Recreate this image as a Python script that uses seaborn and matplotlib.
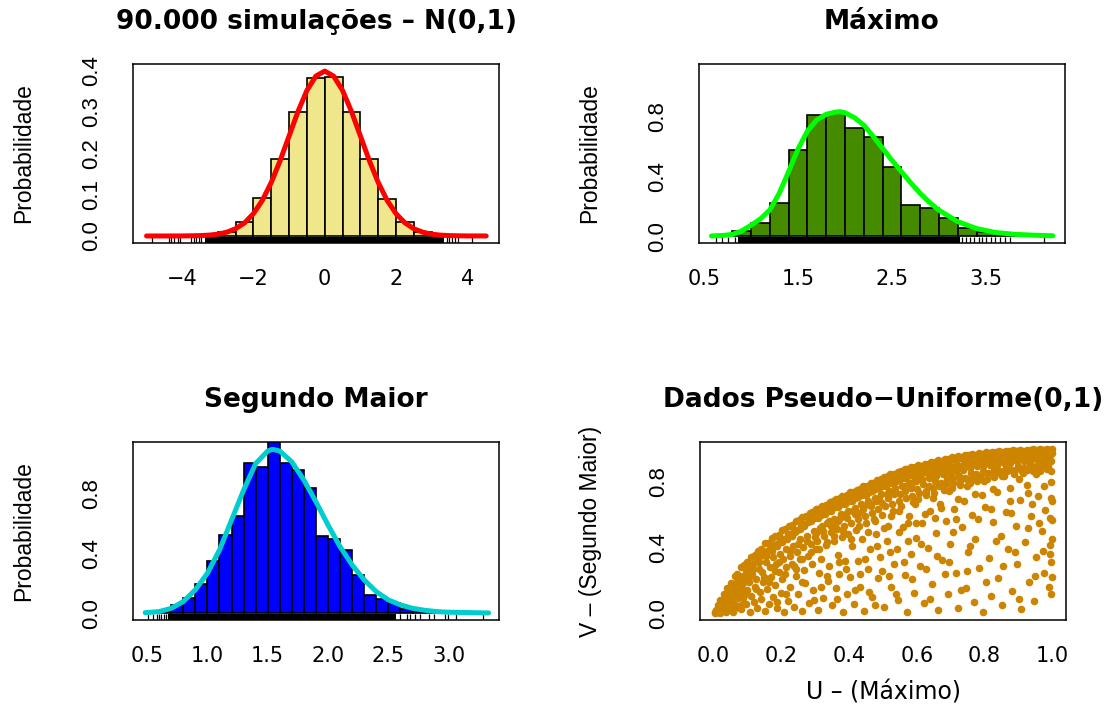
import numpy as np
import pandas as pd
import matplotlib
matplotlib.use("Agg")
import matplotlib.pyplot as plt
import seaborn as sns

# ---------------- data ----------------
# Panel 1: N(0,1) histogram (density) and curve
p1_edges = [-5.0, -4.5, -4.0, -3.5, -3.0, -2.5, -2.0, -1.5, -1.0, -0.5, 0.0,
            0.5, 1.0, 1.5, 2.0, 2.5, 3.0, 3.5, 4.0, 4.5]
p1_heights = [0.0, 0.0001, 0.0004, 0.0022, 0.0098, 0.033, 0.091, 0.186, 0.300, 0.382,
              0.384, 0.300, 0.185, 0.090, 0.034, 0.010, 0.0022, 0.0004, 0.0001]
p1_curve_x = [-5.0, -4.75, -4.5, -4.25, -4.0, -3.75, -3.5, -3.25, -3.0, -2.75, -2.5, -2.25,
              -2.0, -1.75, -1.5, -1.25, -1.0, -0.75, -0.5, -0.25, 0.0, 0.25, 0.5, 0.75,
              1.0, 1.25, 1.5, 1.75, 2.0, 2.25, 2.5, 2.75, 3.0, 3.25, 3.5, 3.75, 4.0,
              4.25, 4.53]
p1_curve_y = [0.0, 0.0, 0.0, 0.0001, 0.0001, 0.0004, 0.0009, 0.0020, 0.0044, 0.0091, 0.0175,
              0.0317, 0.0540, 0.0863, 0.1295, 0.1826, 0.2420, 0.3011, 0.3521, 0.3867, 0.3989,
              0.3867, 0.3521, 0.3011, 0.2420, 0.1826, 0.1295, 0.0863, 0.0540, 0.0317, 0.0175,
              0.0091, 0.0044, 0.0020, 0.0009, 0.0004, 0.0001, 0.0001, 0.0]
p1_rug_core = [-3.3, -3.2, -3.1, -3.0, -2.9, -2.8, -2.7, -2.6, -2.5, -2.4, -2.3, -2.2, -2.1,
               -2.0, -1.9, -1.8, -1.7, -1.6, -1.5, -1.4, -1.3, -1.2, -1.1, -1.0, -0.9, -0.8,
               -0.7, -0.6, -0.5, -0.4, -0.3, -0.2, -0.1, 0.0, 0.1, 0.2, 0.3, 0.4, 0.5, 0.6,
               0.7, 0.8, 0.9, 1.0, 1.1, 1.2, 1.3, 1.4, 1.5, 1.6, 1.7, 1.8, 1.9, 2.0, 2.1,
               2.2, 2.3, 2.4, 2.5, 2.6, 2.7, 2.8, 2.9, 3.0, 3.1, 3.2, 3.3]
p1_rug_tail = [-4.86, -4.36, -4.31, -4.24, -4.12, -4.07, -3.74, -3.66, -3.6, -3.52, -3.47,
               3.42, 3.49, 3.58, 3.66, 3.74, 4.13]
p1_xticks = [-4, -2, 0, 2, 4]
p1_xlabels = ["\u22124", "\u22122", "0", "2", "4"]
p1_yticks = [0.0, 0.1, 0.2, 0.3, 0.4]
p1_ylabels = ["0.0", "0.1", "0.2", "0.3", "0.4"]

# Panel 2: Maximo
p2_edges = [0.6, 0.8, 1.0, 1.2, 1.4, 1.6, 1.8, 2.0, 2.2, 2.4, 2.6, 2.8, 3.0, 3.2, 3.4,
            3.6, 3.8, 4.0, 4.2]
p2_heights = [0.004, 0.033, 0.091, 0.222, 0.571, 0.807, 0.822, 0.724, 0.658, 0.464, 0.207,
              0.187, 0.122, 0.056, 0.029, 0.012, 0.003, 0.001]
p2_curve_x = [0.58, 0.7, 0.8, 0.9, 1.0, 1.1, 1.2, 1.3, 1.4, 1.5, 1.6, 1.7, 1.8, 1.9, 1.95,
              2.0, 2.1, 2.2, 2.3, 2.4, 2.5, 2.6, 2.7, 2.8, 2.9, 3.0, 3.2, 3.4, 3.6, 3.8,
              4.0, 4.21]
p2_curve_y = [0.002, 0.005, 0.012, 0.035, 0.073, 0.115, 0.175, 0.285, 0.43, 0.58, 0.70,
              0.775, 0.812, 0.827, 0.829, 0.822, 0.79, 0.74, 0.665, 0.585, 0.505, 0.43,
              0.355, 0.285, 0.225, 0.173, 0.097, 0.051, 0.025, 0.013, 0.007, 0.003]
p2_rug_core = [0.88, 0.92, 0.96, 1.0, 1.04, 1.08, 1.12, 1.16, 1.2, 1.24, 1.28, 1.32, 1.36,
               1.4, 1.44, 1.48, 1.52, 1.56, 1.6, 1.64, 1.68, 1.72, 1.76, 1.8, 1.84, 1.88,
               1.92, 1.96, 2.0, 2.04, 2.08, 2.12, 2.16, 2.2, 2.24, 2.28, 2.32, 2.36, 2.4,
               2.44, 2.48, 2.52, 2.56, 2.6, 2.64, 2.68, 2.72, 2.76, 2.8, 2.84, 2.88, 2.92,
               2.96, 3.0, 3.04, 3.08, 3.12, 3.16, 3.2]
p2_rug_tail = [0.63, 0.69, 0.76, 0.83, 3.24, 3.29, 3.33, 3.37, 3.42, 3.46, 3.5, 3.55, 3.6,
               3.65, 3.7, 3.75, 4.12]
p2_xticks = [0.5, 1.0, 1.5, 2.0, 2.5, 3.0, 3.5, 4.0]
p2_xlabels = ["0.5", "", "1.5", "", "2.5", "", "3.5", ""]
p2_yticks = [0.0, 0.2, 0.4, 0.6, 0.8, 1.0]
p2_ylabels = ["0.0", "", "0.4", "", "0.8", ""]

# Panel 3: Segundo Maior
p3_edges = [0.5, 0.6, 0.7, 0.8, 0.9, 1.0, 1.1, 1.2, 1.3, 1.4, 1.5, 1.6, 1.7, 1.8, 1.9, 2.0,
            2.1, 2.2, 2.3, 2.4, 2.5, 2.6, 2.7, 2.8, 2.9, 3.0, 3.1, 3.2, 3.3]
p3_heights = [0.003, 0.012, 0.055, 0.104, 0.193, 0.349, 0.520, 0.647, 1.004, 0.978, 1.18,
              1.007, 0.960, 0.837, 0.515, 0.495, 0.420, 0.255, 0.120, 0.093, 0.067, 0.027,
              0.015, 0.008, 0.004, 0.002, 0.001, 0.001]
p3_curve_x = [0.485, 0.6, 0.7, 0.8, 0.9, 1.0, 1.1, 1.2, 1.3, 1.4, 1.5, 1.54, 1.6, 1.7, 1.8,
              1.9, 2.0, 2.1, 2.2, 2.3, 2.4, 2.5, 2.6, 2.7, 2.8, 2.9, 3.0, 3.33]
p3_curve_y = [0.004, 0.011, 0.033, 0.078, 0.156, 0.267, 0.422, 0.622, 0.822, 1.0, 1.084,
              1.095, 1.084, 1.011, 0.889, 0.744, 0.589, 0.444, 0.322, 0.222, 0.144, 0.089,
              0.056, 0.033, 0.020, 0.011, 0.007, 0.002]
p3_rug_core = [0.69, 0.72, 0.75, 0.78, 0.81, 0.84, 0.87, 0.9, 0.93, 0.96, 0.99, 1.02, 1.05,
               1.08, 1.11, 1.14, 1.17, 1.2, 1.23, 1.26, 1.29, 1.32, 1.35, 1.38, 1.41, 1.44,
               1.47, 1.5, 1.53, 1.56, 1.59, 1.62, 1.65, 1.68, 1.71, 1.74, 1.77, 1.8, 1.83,
               1.86, 1.89, 1.92, 1.95, 1.98, 2.01, 2.04, 2.07, 2.1, 2.13, 2.16, 2.19, 2.22,
               2.25, 2.28, 2.31, 2.34, 2.37, 2.4, 2.43, 2.46, 2.49, 2.52, 2.55]
p3_rug_tail = [0.51, 0.55, 0.58, 0.6, 0.62, 0.64, 0.66, 2.6, 2.65, 2.68, 2.72, 2.76, 2.84,
               2.88, 2.97, 2.99, 3.06, 3.28]
p3_xticks = [0.5, 1.0, 1.5, 2.0, 2.5, 3.0]
p3_xlabels = ["0.5", "1.0", "1.5", "2.0", "2.5", "3.0"]
p3_yticks = [0.0, 0.2, 0.4, 0.6, 0.8, 1.0]
p3_ylabels = ["0.0", "", "0.4", "", "0.8", ""]

# Panel 4: pseudo-uniform scatter (U = maximo, V = segundo maior)
pts_edge = [(0.004, 0.012), (0.013, 0.050), (0.021, 0.081), (0.032, 0.118), (0.041, 0.158),
            (0.052, 0.188), (0.063, 0.226), (0.071, 0.241), (0.083, 0.279), (0.092, 0.296),
            (0.101, 0.309), (0.112, 0.342), (0.123, 0.356), (0.131, 0.380), (0.142, 0.391),
            (0.153, 0.424), (0.161, 0.428), (0.174, 0.455), (0.182, 0.470), (0.193, 0.477),
            (0.204, 0.503), (0.213, 0.509), (0.224, 0.532), (0.232, 0.535), (0.243, 0.558),
            (0.254, 0.566), (0.262, 0.583), (0.273, 0.588), (0.284, 0.609), (0.292, 0.611),
            (0.303, 0.630), (0.314, 0.637), (0.322, 0.652), (0.333, 0.655), (0.344, 0.676),
            (0.352, 0.678), (0.363, 0.693), (0.374, 0.697), (0.381, 0.712), (0.393, 0.715),
            (0.404, 0.733), (0.412, 0.734), (0.423, 0.748), (0.434, 0.755), (0.442, 0.770),
            (0.453, 0.771), (0.464, 0.788), (0.472, 0.790), (0.483, 0.806), (0.494, 0.811),
            (0.503, 0.826), (0.514, 0.829), (0.522, 0.843), (0.533, 0.844), (0.544, 0.858),
            (0.553, 0.861), (0.564, 0.873), (0.572, 0.871), (0.583, 0.884), (0.594, 0.885),
            (0.603, 0.897), (0.612, 0.893), (0.624, 0.906), (0.633, 0.905), (0.641, 0.914),
            (0.653, 0.917), (0.662, 0.925), (0.674, 0.924), (0.683, 0.934), (0.691, 0.932),
            (0.703, 0.943), (0.714, 0.941), (0.722, 0.950), (0.734, 0.948), (0.743, 0.957),
            (0.752, 0.955), (0.763, 0.963), (0.771, 0.958), (0.784, 0.969), (0.792, 0.966),
            (0.803, 0.974), (0.811, 0.969), (0.823, 0.978), (0.834, 0.974), (0.842, 0.981),
            (0.853, 0.976), (0.864, 0.984), (0.872, 0.979), (0.883, 0.986), (0.894, 0.981),
            (0.903, 0.988), (0.912, 0.983), (0.924, 0.990), (0.933, 0.985), (0.942, 0.992),
            (0.953, 0.987), (0.962, 0.993), (0.974, 0.989), (0.983, 0.994), (0.992, 0.990),
            (0.998, 0.996)]
pts_band = [(0.018, 0.045), (0.027, 0.072), (0.036, 0.098), (0.047, 0.131), (0.057, 0.162),
            (0.066, 0.184), (0.078, 0.221), (0.087, 0.228), (0.097, 0.262), (0.108, 0.284),
            (0.117, 0.301), (0.128, 0.318), (0.137, 0.346), (0.148, 0.352), (0.158, 0.381),
            (0.168, 0.389), (0.178, 0.416), (0.188, 0.421), (0.198, 0.447), (0.208, 0.452),
            (0.219, 0.478), (0.228, 0.483), (0.239, 0.503), (0.248, 0.508), (0.258, 0.529),
            (0.269, 0.531), (0.278, 0.554), (0.289, 0.557), (0.298, 0.575), (0.309, 0.579),
            (0.318, 0.598), (0.329, 0.603), (0.338, 0.618), (0.348, 0.619), (0.359, 0.641),
            (0.368, 0.642), (0.378, 0.659), (0.388, 0.661), (0.399, 0.679), (0.408, 0.681),
            (0.419, 0.697), (0.428, 0.702), (0.438, 0.716), (0.449, 0.719), (0.458, 0.735),
            (0.468, 0.738), (0.478, 0.752), (0.489, 0.757), (0.498, 0.771), (0.508, 0.772),
            (0.518, 0.789), (0.528, 0.791), (0.538, 0.803), (0.548, 0.805), (0.559, 0.821),
            (0.568, 0.818), (0.578, 0.834), (0.588, 0.832), (0.598, 0.846), (0.608, 0.843),
            (0.619, 0.856), (0.628, 0.853), (0.638, 0.866), (0.648, 0.862), (0.658, 0.874),
            (0.669, 0.871), (0.678, 0.884), (0.688, 0.879), (0.698, 0.892), (0.709, 0.888),
            (0.718, 0.899), (0.728, 0.894), (0.738, 0.906), (0.748, 0.901), (0.758, 0.912),
            (0.768, 0.908), (0.778, 0.918), (0.789, 0.913), (0.798, 0.924), (0.808, 0.918),
            (0.818, 0.928), (0.828, 0.923), (0.838, 0.933), (0.848, 0.927), (0.858, 0.936),
            (0.868, 0.931), (0.878, 0.941), (0.888, 0.934), (0.898, 0.944), (0.908, 0.937),
            (0.918, 0.948), (0.928, 0.941), (0.938, 0.951), (0.948, 0.944), (0.958, 0.953),
            (0.968, 0.947), (0.978, 0.958), (0.988, 0.951), (0.996, 0.962)]
pts_inner = [(0.035, 0.06), (0.045, 0.09), (0.055, 0.11), (0.068, 0.14), (0.076, 0.17),
             (0.085, 0.15), (0.094, 0.21), (0.104, 0.19), (0.115, 0.24), (0.126, 0.21),
             (0.134, 0.27), (0.145, 0.25), (0.156, 0.31), (0.166, 0.28), (0.176, 0.34),
             (0.185, 0.30), (0.196, 0.36), (0.207, 0.33), (0.216, 0.39), (0.226, 0.35),
             (0.236, 0.41), (0.246, 0.37), (0.257, 0.45), (0.266, 0.40), (0.276, 0.47),
             (0.287, 0.42), (0.296, 0.50), (0.306, 0.44), (0.316, 0.52), (0.327, 0.47),
             (0.336, 0.55), (0.347, 0.49), (0.357, 0.57), (0.366, 0.51), (0.377, 0.60),
             (0.386, 0.53), (0.396, 0.62), (0.406, 0.55), (0.417, 0.64), (0.427, 0.57),
             (0.436, 0.66), (0.447, 0.59), (0.456, 0.68), (0.467, 0.61), (0.476, 0.70),
             (0.487, 0.63), (0.496, 0.72), (0.507, 0.65), (0.517, 0.74), (0.526, 0.66),
             (0.536, 0.76), (0.547, 0.68), (0.556, 0.77), (0.567, 0.70), (0.576, 0.79),
             (0.586, 0.71), (0.597, 0.80), (0.607, 0.73), (0.616, 0.81), (0.626, 0.74),
             (0.637, 0.82), (0.647, 0.76), (0.656, 0.83), (0.667, 0.77), (0.676, 0.84),
             (0.686, 0.78), (0.697, 0.85), (0.707, 0.79), (0.716, 0.86), (0.727, 0.80),
             (0.736, 0.87), (0.747, 0.81), (0.757, 0.88), (0.766, 0.82), (0.777, 0.89),
             (0.787, 0.83), (0.796, 0.89), (0.806, 0.84), (0.817, 0.90), (0.827, 0.84),
             (0.836, 0.90), (0.846, 0.85), (0.857, 0.91), (0.867, 0.86), (0.876, 0.91),
             (0.886, 0.86), (0.897, 0.92), (0.907, 0.87), (0.916, 0.92), (0.926, 0.87),
             (0.937, 0.93), (0.947, 0.88), (0.956, 0.93), (0.966, 0.88), (0.977, 0.93),
             (0.987, 0.89), (0.995, 0.92),
             (0.305, 0.49), (0.322, 0.53), (0.341, 0.56), (0.358, 0.53), (0.374, 0.58),
             (0.392, 0.60), (0.411, 0.62), (0.429, 0.61), (0.445, 0.65), (0.462, 0.66),
             (0.481, 0.68), (0.499, 0.67), (0.515, 0.70), (0.532, 0.72), (0.551, 0.72),
             (0.566, 0.74), (0.584, 0.76), (0.601, 0.75), (0.619, 0.78), (0.636, 0.77),
             (0.654, 0.80), (0.671, 0.79), (0.689, 0.81), (0.706, 0.82), (0.724, 0.83),
             (0.741, 0.82), (0.759, 0.85), (0.776, 0.84), (0.794, 0.86), (0.811, 0.85),
             (0.829, 0.87), (0.846, 0.86), (0.864, 0.88), (0.881, 0.87), (0.899, 0.89),
             (0.916, 0.88), (0.934, 0.90), (0.951, 0.89), (0.969, 0.90), (0.986, 0.91)]
pts_mid = [(0.105, 0.22), (0.118, 0.27), (0.127, 0.15), (0.136, 0.31), (0.149, 0.22),
           (0.157, 0.35), (0.164, 0.19), (0.172, 0.38), (0.181, 0.26), (0.187, 0.41),
           (0.195, 0.31), (0.202, 0.43), (0.211, 0.24), (0.218, 0.45), (0.225, 0.38),
           (0.231, 0.47), (0.237, 0.29), (0.242, 0.49), (0.249, 0.42), (0.256, 0.51),
           (0.263, 0.33), (0.268, 0.54), (0.275, 0.44), (0.282, 0.56), (0.288, 0.37),
           (0.293, 0.58), (0.299, 0.46), (0.307, 0.60), (0.312, 0.39), (0.317, 0.61),
           (0.323, 0.50), (0.328, 0.63), (0.334, 0.43), (0.339, 0.64), (0.346, 0.53),
           (0.351, 0.66), (0.356, 0.47), (0.362, 0.67), (0.369, 0.56), (0.376, 0.69),
           (0.383, 0.50), (0.387, 0.70), (0.394, 0.58), (0.401, 0.71), (0.407, 0.45),
           (0.413, 0.73), (0.418, 0.60), (0.424, 0.74), (0.431, 0.53), (0.437, 0.75),
           (0.443, 0.63), (0.448, 0.76), (0.455, 0.49), (0.461, 0.77), (0.466, 0.65),
           (0.471, 0.78), (0.478, 0.56), (0.484, 0.79), (0.489, 0.69), (0.495, 0.80),
           (0.502, 0.52), (0.509, 0.81), (0.513, 0.72), (0.519, 0.82), (0.525, 0.59),
           (0.531, 0.83), (0.537, 0.74), (0.543, 0.84), (0.549, 0.62), (0.554, 0.85),
           (0.561, 0.77), (0.566, 0.86), (0.573, 0.55), (0.579, 0.87), (0.585, 0.79),
           (0.591, 0.87), (0.596, 0.66), (0.602, 0.88), (0.611, 0.81), (0.617, 0.89),
           (0.623, 0.60), (0.629, 0.89), (0.635, 0.83), (0.642, 0.90), (0.649, 0.70),
           (0.655, 0.91), (0.661, 0.85), (0.666, 0.91), (0.672, 0.64), (0.679, 0.92),
           (0.684, 0.86), (0.691, 0.92), (0.696, 0.74), (0.702, 0.93), (0.711, 0.88),
           (0.717, 0.93), (0.723, 0.69), (0.729, 0.94), (0.735, 0.89), (0.742, 0.94),
           (0.749, 0.77), (0.754, 0.95), (0.761, 0.90), (0.767, 0.95), (0.772, 0.72),
           (0.779, 0.95), (0.786, 0.91), (0.793, 0.96), (0.799, 0.80), (0.805, 0.96),
           (0.812, 0.92), (0.819, 0.96), (0.826, 0.75), (0.832, 0.97), (0.839, 0.93),
           (0.845, 0.97), (0.851, 0.83), (0.857, 0.97), (0.862, 0.94), (0.869, 0.97),
           (0.875, 0.68), (0.882, 0.98), (0.889, 0.95), (0.894, 0.98), (0.901, 0.81),
           (0.906, 0.98), (0.913, 0.95), (0.921, 0.98), (0.927, 0.73), (0.932, 0.98),
           (0.939, 0.96), (0.944, 0.99), (0.951, 0.84), (0.957, 0.99), (0.964, 0.96),
           (0.971, 0.99), (0.976, 0.77), (0.982, 0.99), (0.988, 0.96), (0.994, 0.99),
           (0.997, 0.86), (0.999, 0.97), (0.995, 0.70), (0.992, 0.58), (0.998, 0.45),
           (0.994, 0.36), (0.999, 0.22), (0.996, 0.12)]
pts_low = [(0.006, 0.004), (0.009, 0.021), (0.016, 0.031), (0.019, 0.006), (0.023, 0.058),
           (0.028, 0.033), (0.034, 0.081), (0.038, 0.012), (0.042, 0.107), (0.046, 0.045),
           (0.053, 0.142), (0.056, 0.074), (0.061, 0.031), (0.066, 0.168), (0.072, 0.092),
           (0.077, 0.201), (0.082, 0.054), (0.089, 0.184), (0.093, 0.119), (0.098, 0.238),
           (0.012, 0.008), (0.025, 0.015), (0.031, 0.041), (0.044, 0.022), (0.048, 0.063),
           (0.058, 0.012), (0.062, 0.085), (0.069, 0.047), (0.074, 0.118), (0.081, 0.029),
           (0.088, 0.094), (0.096, 0.061), (0.099, 0.142), (0.107, 0.011), (0.111, 0.108),
           (0.119, 0.072), (0.124, 0.163), (0.129, 0.037), (0.138, 0.128), (0.141, 0.089),
           (0.147, 0.193), (0.152, 0.018), (0.159, 0.149), (0.163, 0.057), (0.171, 0.221),
           (0.177, 0.103), (0.183, 0.176), (0.189, 0.034), (0.194, 0.252), (0.199, 0.126),
           (0.203, 0.207), (0.209, 0.009), (0.214, 0.284), (0.221, 0.078), (0.227, 0.161),
           (0.233, 0.302), (0.238, 0.043), (0.244, 0.229), (0.251, 0.118), (0.255, 0.331),
           (0.261, 0.014), (0.267, 0.262), (0.272, 0.187), (0.279, 0.351), (0.283, 0.067),
           (0.291, 0.298), (0.294, 0.142), (0.302, 0.388), (0.308, 0.021), (0.313, 0.247),
           (0.319, 0.331), (0.324, 0.096), (0.331, 0.412), (0.337, 0.198), (0.342, 0.288),
           (0.349, 0.052), (0.355, 0.436), (0.361, 0.157), (0.367, 0.354), (0.372, 0.241),
           (0.379, 0.463), (0.384, 0.012), (0.389, 0.317), (0.395, 0.118), (0.398, 0.481),
           (0.403, 0.224), (0.409, 0.407), (0.414, 0.061), (0.421, 0.506), (0.426, 0.316),
           (0.433, 0.162), (0.439, 0.453), (0.444, 0.018), (0.451, 0.548), (0.457, 0.271),
           (0.462, 0.389), (0.469, 0.102), (0.474, 0.571), (0.481, 0.481), (0.486, 0.213),
           (0.492, 0.342), (0.499, 0.597), (0.504, 0.041), (0.511, 0.438), (0.516, 0.527),
           (0.523, 0.164), (0.529, 0.621), (0.534, 0.297), (0.541, 0.392), (0.546, 0.083),
           (0.553, 0.648), (0.558, 0.521), (0.564, 0.236), (0.571, 0.011), (0.577, 0.587),
           (0.582, 0.361), (0.588, 0.672), (0.593, 0.127), (0.599, 0.458), (0.604, 0.693),
           (0.609, 0.286), (0.615, 0.547), (0.621, 0.062), (0.627, 0.714), (0.632, 0.398),
           (0.639, 0.621), (0.644, 0.178), (0.651, 0.729), (0.657, 0.489), (0.662, 0.022),
           (0.668, 0.662), (0.674, 0.323), (0.681, 0.746), (0.686, 0.561), (0.692, 0.121),
           (0.698, 0.418), (0.703, 0.758), (0.709, 0.632), (0.716, 0.247), (0.722, 0.034),
           (0.727, 0.774), (0.733, 0.524), (0.739, 0.682), (0.744, 0.157), (0.751, 0.372),
           (0.756, 0.788), (0.762, 0.597), (0.768, 0.071), (0.773, 0.453), (0.779, 0.801),
           (0.784, 0.276), (0.791, 0.718), (0.796, 0.013), (0.802, 0.643), (0.807, 0.812),
           (0.813, 0.338), (0.818, 0.106), (0.824, 0.554), (0.829, 0.823), (0.836, 0.737),
           (0.841, 0.214), (0.847, 0.469), (0.852, 0.051), (0.858, 0.833), (0.863, 0.612),
           (0.869, 0.389), (0.874, 0.761), (0.881, 0.138), (0.886, 0.842), (0.892, 0.528),
           (0.897, 0.297), (0.903, 0.684), (0.908, 0.027), (0.914, 0.851), (0.919, 0.433),
           (0.925, 0.778), (0.931, 0.192), (0.936, 0.587), (0.942, 0.862), (0.947, 0.074),
           (0.953, 0.342), (0.958, 0.711), (0.963, 0.864), (0.969, 0.498), (0.974, 0.248),
           (0.979, 0.626), (0.984, 0.873), (0.989, 0.162), (0.993, 0.412), (0.996, 0.794),
           (0.998, 0.563), (0.997, 0.312), (0.999, 0.683),
           (0.215, 0.12), (0.262, 0.19), (0.297, 0.08), (0.336, 0.23), (0.364, 0.09),
           (0.392, 0.27), (0.417, 0.14), (0.448, 0.33), (0.476, 0.05), (0.497, 0.26),
           (0.521, 0.37), (0.538, 0.12), (0.562, 0.31), (0.587, 0.21), (0.612, 0.42),
           (0.638, 0.09), (0.659, 0.35), (0.683, 0.24), (0.706, 0.49), (0.731, 0.14),
           (0.757, 0.41), (0.781, 0.57), (0.804, 0.19), (0.833, 0.44), (0.855, 0.29),
           (0.879, 0.61), (0.902, 0.09), (0.927, 0.52), (0.948, 0.23), (0.972, 0.38),
           (0.188, 0.07), (0.245, 0.27), (0.318, 0.16), (0.371, 0.31), (0.433, 0.24),
           (0.459, 0.13), (0.518, 0.23), (0.574, 0.44), (0.626, 0.27), (0.694, 0.31),
           (0.748, 0.26), (0.819, 0.63), (0.889, 0.37), (0.941, 0.66), (0.961, 0.55),
           (0.716, 0.57), (0.653, 0.58), (0.598, 0.55), (0.547, 0.49), (0.484, 0.41)]
p4_xticks = [0.0, 0.2, 0.4, 0.6, 0.8, 1.0]
p4_xlabels = ["0.0", "0.2", "0.4", "0.6", "0.8", "1.0"]
p4_yticks = [0.0, 0.2, 0.4, 0.6, 0.8, 1.0]
p4_ylabels = ["0.0", "", "0.4", "", "0.8", ""]

titles = ["90.000 simula\u00e7\u00f5es \u2013 N(0,1)", "M\u00e1ximo", "Segundo Maior",
          "Dados Pseudo\u2212Uniforme(0,1)"]

# ---------------- style ----------------
sns.set_style("white")
plt.rcParams['font.family'] = ['DejaVu Sans']
for key in ["text.color", "axes.labelcolor", "xtick.color", "ytick.color",
            "axes.edgecolor"]:
    plt.rcParams[key] = "black"
NARROW = ['Liberation Sans Narrow', 'Liberation Sans', 'DejaVu Sans']
W, H = 1112, 708
fig = plt.figure(figsize=(W / 100, H / 100), dpi=100)


def make_ax(left, top, right, bottom):
    return fig.add_axes([left / W, 1 - bottom / H, (right - left) / W, (bottom - top) / H])


ax1 = make_ax(133, 64, 499, 243)
ax2 = make_ax(699, 64, 1065, 243)
ax3 = make_ax(133, 442, 499, 620)
ax4 = make_ax(700, 442, 1066, 620)


def hist_panel(ax, edges, heights, fill, cx, cy, ccol, rug_core, rug_tail):
    e = np.array(edges)
    df = pd.DataFrame({"x": (e[:-1] + e[1:]) / 2, "w": heights})
    sns.histplot(data=df, x="x", weights="w", bins=edges, stat="count", color=fill,
                 edgecolor="black", linewidth=1.2, alpha=1, ax=ax)
    sns.rugplot(x=rug_core, ax=ax, height=0.035, color="black", linewidth=2.9,
                expand_margins=False)
    sns.rugplot(x=rug_tail, ax=ax, height=0.035, color="black", linewidth=0.9,
                expand_margins=False)
    sns.lineplot(x=cx, y=cy, ax=ax, color=ccol, lw=3.6, sort=False, estimator=None,
                 solid_capstyle="round")


hist_panel(ax1, p1_edges, p1_heights, "#F0E68C", p1_curve_x, p1_curve_y, "#FF0000",
           p1_rug_core, p1_rug_tail)
hist_panel(ax2, p2_edges, p2_heights, "#458B00", p2_curve_x, p2_curve_y, "#00FF00",
           p2_rug_core, p2_rug_tail)
hist_panel(ax3, p3_edges, p3_heights, "#0000FF", p3_curve_x, p3_curve_y, "#00CDCD",
           p3_rug_core, p3_rug_tail)

all_pts = pts_low + pts_mid + pts_inner + pts_band + pts_edge
sc = pd.DataFrame(all_pts, columns=["u", "v"])
sns.scatterplot(data=sc, x="u", y="v", ax=ax4, color="#CD8500", s=30, linewidth=0,
                edgecolor=None)

ax1.set_xlim(-5.38, 4.89); ax1.set_ylim(-0.017, 0.416)
ax2.set_xlim(0.447, 4.34); ax2.set_ylim(-0.045, 1.147)
ax3.set_xlim(0.384, 3.416); ax3.set_ylim(-0.045, 1.144)
ax4.set_xlim(-0.039, 1.04); ax4.set_ylim(-0.038, 1.036)

cfg = [(ax1, p1_xticks, p1_xlabels, p1_yticks, p1_ylabels),
       (ax2, p2_xticks, p2_xlabels, p2_yticks, p2_ylabels),
       (ax3, p3_xticks, p3_xlabels, p3_yticks, p3_ylabels),
       (ax4, p4_xticks, p4_xlabels, p4_yticks, p4_ylabels)]
for i, (ax, xt, xl, yt, yl) in enumerate(cfg):
    ax.set_xticks(xt)
    ax.set_xticklabels(xl, fontsize=15, family="DejaVu Sans")
    ax.set_yticks(yt)
    ax.set_yticklabels(yl, fontsize=16, family=NARROW, rotation=90, va="center")
    ax.tick_params(axis="x", direction="out", length=8, width=1.1, pad=11, color="black")
    ax.tick_params(axis="y", direction="out", length=11.5, width=1.1, pad=11, color="black")
    for s in ax.spines.values():
        s.set_visible(True)
        s.set_color("black")
        s.set_linewidth(1.1)
    ax.set_title(titles[i], fontsize=19, fontweight="bold", pad=25, color="black")
    ax.set_xlabel("")
    ylab = "V \u2013 (Segundo Maior)" if i == 3 else "Probabilidade"
    ax.set_ylabel(ylab, fontsize=16.5, family=NARROW, va="center", ha="center")
    ax.yaxis.set_label_coords(-0.30, 0.5)
    ax.grid(False)

ax4.set_xlabel("U \u2013 (M\u00e1ximo)", fontsize=17, va="center", ha="center")
ax4.xaxis.set_label_coords(0.5, -0.41)

fig.savefig("out.png", dpi=100, facecolor="white")
